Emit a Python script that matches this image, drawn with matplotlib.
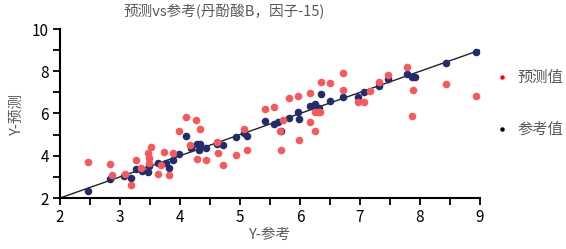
# Predicted vs reference scatter for 丹酚酸B (factor 15)
import matplotlib
matplotlib.use('Agg')
import matplotlib.pyplot as plt
from matplotlib.lines import Line2D
from matplotlib.ticker import MultipleLocator

plt.rcParams['font.family'] = ['Noto Sans CJK SC', 'DejaVu Sans']

# reference values (参考值): x = Y-参考, y = Y-预测 axis
ref_x = [2.47, 2.83, 3.07, 3.19, 3.27, 3.36, 3.47, 3.49, 3.64, 3.77, 3.81, 3.88,
         3.99, 4.10, 4.18, 4.28, 4.33, 4.31, 4.43, 4.61, 4.72, 4.93, 5.07, 5.11,
         5.42, 5.56, 5.64, 5.68, 5.82, 5.97, 5.98, 6.17, 6.25, 6.31, 6.35, 6.50,
         6.71, 6.96, 7.06, 7.32, 7.47, 7.79, 7.87, 7.91, 8.43, 8.94]
ref_y = [2.33, 2.89, 3.06, 2.96, 3.36, 3.29, 3.22, 3.50, 3.64, 3.64, 3.41, 3.80,
         4.09, 4.94, 4.35, 4.54, 4.54, 4.27, 4.35, 4.54, 4.51, 4.88, 5.07, 4.94,
         5.65, 5.49, 5.62, 5.18, 5.81, 6.09, 5.74, 6.37, 6.44, 6.28, 6.91, 6.61,
         6.77, 6.80, 7.04, 7.31, 7.62, 7.87, 7.75, 7.75, 8.38, 8.90]

# predicted values (预测值)
pred_x = [2.47, 2.83, 2.87, 3.08, 3.19, 3.27, 3.35, 3.47, 3.51, 3.49, 3.49, 3.64,
          3.68, 3.74, 3.81, 3.88, 3.99, 4.10, 4.27, 4.33, 4.17, 4.28, 4.43, 4.61,
          4.63, 4.72, 4.93, 5.07, 5.11, 5.41, 5.57, 5.66, 5.71, 5.68, 5.98, 5.82,
          5.96, 6.17, 6.17, 6.25, 6.25, 6.30, 6.33, 6.35, 6.50, 6.71, 6.71, 6.96,
          7.06, 7.17, 7.32, 7.47, 7.79, 7.89, 7.86, 8.43, 8.93]
pred_y = [3.69, 3.61, 3.09, 3.14, 2.62, 3.80, 3.41, 4.12, 4.43, 3.88, 3.64, 3.14,
          3.56, 4.17, 3.09, 4.12, 5.18, 5.85, 5.70, 5.27, 4.51, 3.83, 3.80, 4.67,
          4.12, 3.56, 4.04, 5.27, 4.27, 6.22, 6.33, 5.19, 5.70, 4.27, 4.75, 6.75,
          6.81, 6.99, 5.59, 5.18, 6.07, 6.05, 6.05, 7.51, 7.46, 7.94, 7.09, 6.56,
          6.56, 7.07, 7.51, 7.80, 8.18, 7.09, 5.89, 7.40, 6.83]

line_x = [2, 9]
line_y = [2, 9]

red = '#F45A5C'
navy = '#232D6C'
gray = '#595959'

fig = plt.figure(figsize=(5.66, 2.49), dpi=100)
ax = fig.add_axes([60 / 566, 51 / 249, 420 / 566, 169 / 249])

ax.plot(line_x, line_y, color='#222222', lw=1.0, zorder=1)
ax.scatter(ref_x, ref_y, s=30, color=navy, linewidths=0, zorder=2)
ax.scatter(pred_x, pred_y, s=30, color=red, linewidths=0, zorder=3)

ax.set_xlim(2, 9)
ax.set_ylim(2, 10)
ax.xaxis.set_major_locator(MultipleLocator(1))
ax.xaxis.set_minor_locator(MultipleLocator(0.5))
ax.yaxis.set_major_locator(MultipleLocator(2))
ax.yaxis.set_minor_locator(MultipleLocator(1))

for side in ['top', 'right']:
    ax.spines[side].set_visible(False)
for side in ['left', 'bottom']:
    ax.spines[side].set_linewidth(1.5)
ax.tick_params(which='both', direction='out', length=5, width=1.3,
               labelsize=11, colors='black', pad=3)

ax.set_xlabel('Y-参考', fontsize=10.5, color=gray, labelpad=1)
ax.set_ylabel('Y-预测', fontsize=10.5, color=gray, labelpad=6)

fig.text(224 / 566, 1 - 12 / 249, '预测vs参考(丹酚酸B，因子-15)', fontsize=10.5,
         color=gray, ha='center', va='center')

handles = [Line2D([], [], ls='none', marker='o', ms=2.2, color='red'),
           Line2D([], [], ls='none', marker='o', ms=2.2, color='black')]
fig.legend(handles, ['预测值', '参考值'], loc='upper left',
           bbox_to_anchor=(488 / 566, 1 - 63 / 249), frameon=False,
           fontsize=11, labelcolor=gray, handlelength=1.0,
           handletextpad=0.5, labelspacing=2.3, borderaxespad=0)

fig.savefig('out.png', dpi=100)
